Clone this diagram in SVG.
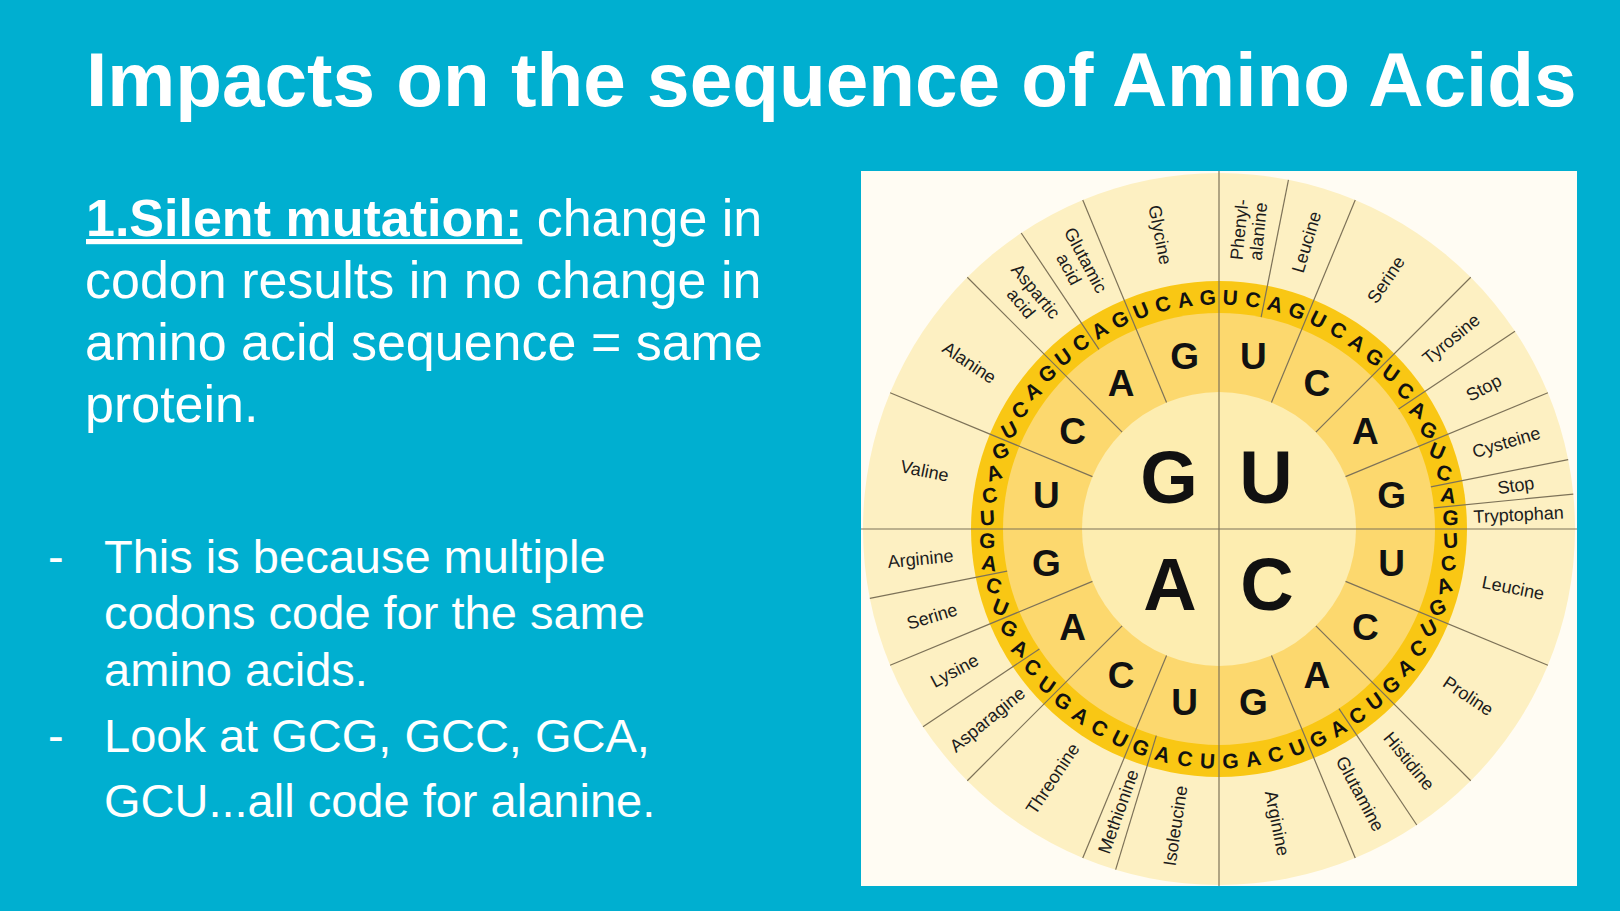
<svg xmlns="http://www.w3.org/2000/svg" width="1620" height="911" viewBox="0 0 1620 911">
<style>
.ttl{font:bold 76.5px "Liberation Sans",Arial,sans-serif;fill:#fff}
.body{font:52px "Liberation Sans",Arial,sans-serif;fill:#fff}
.bul{font:47px "Liberation Sans",Arial,sans-serif;fill:#fff}
.t1{font:bold 74px "Liberation Sans",Arial,sans-serif;fill:#111;text-anchor:middle}
.t2{font:bold 37px "Liberation Sans",Arial,sans-serif;fill:#111;text-anchor:middle}
.t3{font:bold 21px "Liberation Sans",Arial,sans-serif;fill:#111;text-anchor:middle}
.aa{font:18px "Liberation Sans",Arial,sans-serif;fill:#1c1c1c;text-anchor:middle}
.ln{stroke:#7d7258;stroke-width:1.2;fill:none}
</style>
<rect width="1620" height="911" fill="#00AFD0"/>
<g id="title"><text class="ttl" x="86" y="106">Impacts on the sequence of Amino Acids</text></g>
<g id="definition">
<text class="body" x="86" y="236"><tspan font-weight="bold" text-decoration="underline">1.Silent mutation:</tspan><tspan> change in</tspan></text>
<text class="body" x="85" y="298">codon results in no change in</text>
<text class="body" x="85" y="360">amino acid sequence = same</text>
<text class="body" x="85" y="422">protein.</text>
</g>
<g id="bullet1">
<text class="bul" x="48" y="573">-</text>
<text class="bul" x="104" y="573">This is because multiple</text>
<text class="bul" x="104" y="629">codons code for the same</text>
<text class="bul" x="104" y="686">amino acids.</text>
</g>
<g id="bullet2">
<text class="bul" x="48" y="752">-</text>
<text class="bul" x="104" y="752">Look at GCG, GCC, GCA,</text>
<text class="bul" x="104" y="817">GCU...all code for alanine.</text>
</g>
<g id="codon-wheel">
<rect x="861" y="171" width="716" height="715" fill="#FFFCF3"/>
<g transform="translate(1219,529)">
<circle r="356" fill="#FDF0C2"/>
<circle r="248" fill="#F9C714"/>
<circle r="216" fill="#FCD86E"/>
<circle r="137" fill="#FDEDB0"/>
</g>
</g>
<g id="connectors" class="ln">
<line x1="1219" y1="171" x2="1219" y2="886"/>
<line x1="861" y1="529" x2="1577" y2="529"/>
<g transform="translate(1219,529)">
<line x1="0" y1="-137" x2="0" y2="-356" transform="rotate(22.5)"/>
<line x1="0" y1="-137" x2="0" y2="-356" transform="rotate(45)"/>
<line x1="0" y1="-137" x2="0" y2="-356" transform="rotate(67.5)"/>
<line x1="0" y1="-137" x2="0" y2="-356" transform="rotate(112.5)"/>
<line x1="0" y1="-137" x2="0" y2="-356" transform="rotate(135)"/>
<line x1="0" y1="-137" x2="0" y2="-356" transform="rotate(157.5)"/>
<line x1="0" y1="-137" x2="0" y2="-356" transform="rotate(202.5)"/>
<line x1="0" y1="-137" x2="0" y2="-356" transform="rotate(225)"/>
<line x1="0" y1="-137" x2="0" y2="-356" transform="rotate(247.5)"/>
<line x1="0" y1="-137" x2="0" y2="-356" transform="rotate(292.5)"/>
<line x1="0" y1="-137" x2="0" y2="-356" transform="rotate(315)"/>
<line x1="0" y1="-137" x2="0" y2="-356" transform="rotate(337.5)"/>
<line x1="0" y1="-216" x2="0" y2="-356" transform="rotate(11.25)"/>
<line x1="0" y1="-216" x2="0" y2="-356" transform="rotate(56.25)"/>
<line x1="0" y1="-216" x2="0" y2="-356" transform="rotate(78.75)"/>
<line x1="0" y1="-216" x2="0" y2="-356" transform="rotate(84.375)"/>
<line x1="0" y1="-216" x2="0" y2="-356" transform="rotate(146.25)"/>
<line x1="0" y1="-216" x2="0" y2="-356" transform="rotate(196.875)"/>
<line x1="0" y1="-216" x2="0" y2="-356" transform="rotate(236.25)"/>
<line x1="0" y1="-216" x2="0" y2="-356" transform="rotate(258.75)"/>
<line x1="0" y1="-216" x2="0" y2="-356" transform="rotate(326.25)"/>
</g>
</g>
<g id="first-letters">
<text class="t1" x="1169" y="503">G</text>
<text class="t1" x="1266" y="503">U</text>
<text class="t1" x="1170" y="610">A</text>
<text class="t1" x="1267" y="610">C</text>
</g>
<g id="second-letters" transform="translate(1219,529)">
<text class="t2" dy="13" transform="rotate(11.25)translate(0,-176)rotate(-11.25)">U</text>
<text class="t2" dy="13" transform="rotate(33.75)translate(0,-176)rotate(-33.75)">C</text>
<text class="t2" dy="13" transform="rotate(56.25)translate(0,-176)rotate(-56.25)">A</text>
<text class="t2" dy="13" transform="rotate(78.75)translate(0,-176)rotate(-78.75)">G</text>
<text class="t2" dy="13" transform="rotate(101.25)translate(0,-176)rotate(-101.25)">U</text>
<text class="t2" dy="13" transform="rotate(123.75)translate(0,-176)rotate(-123.75)">C</text>
<text class="t2" dy="13" transform="rotate(146.25)translate(0,-176)rotate(-146.25)">A</text>
<text class="t2" dy="13" transform="rotate(168.75)translate(0,-176)rotate(-168.75)">G</text>
<text class="t2" dy="13" transform="rotate(191.25)translate(0,-176)rotate(-191.25)">U</text>
<text class="t2" dy="13" transform="rotate(213.75)translate(0,-176)rotate(-213.75)">C</text>
<text class="t2" dy="13" transform="rotate(236.25)translate(0,-176)rotate(-236.25)">A</text>
<text class="t2" dy="13" transform="rotate(258.75)translate(0,-176)rotate(-258.75)">G</text>
<text class="t2" dy="13" transform="rotate(281.25)translate(0,-176)rotate(-281.25)">U</text>
<text class="t2" dy="13" transform="rotate(303.75)translate(0,-176)rotate(-303.75)">C</text>
<text class="t2" dy="13" transform="rotate(326.25)translate(0,-176)rotate(-326.25)">A</text>
<text class="t2" dy="13" transform="rotate(348.75)translate(0,-176)rotate(-348.75)">G</text>
</g>
<g id="third-letters" transform="translate(1219,529)">
<text class="t3" dy="7.5" transform="rotate(2.8125)translate(0,-232)rotate(-2.8125)rotate(3.4)">U</text>
<text class="t3" dy="7.5" transform="rotate(8.4375)translate(0,-232)rotate(-8.4375)rotate(10.2)">C</text>
<text class="t3" dy="7.5" transform="rotate(14.0625)translate(0,-232)rotate(-14.0625)rotate(16.5)">A</text>
<text class="t3" dy="7.5" transform="rotate(19.6875)translate(0,-232)rotate(-19.6875)rotate(22.2)">G</text>
<text class="t3" dy="7.5" transform="rotate(25.3125)translate(0,-232)rotate(-25.3125)rotate(27.1)">U</text>
<text class="t3" dy="7.5" transform="rotate(30.9375)translate(0,-232)rotate(-30.9375)rotate(30.9)">C</text>
<text class="t3" dy="7.5" transform="rotate(36.5625)translate(0,-232)rotate(-36.5625)rotate(33.5)">A</text>
<text class="t3" dy="7.5" transform="rotate(42.1875)translate(0,-232)rotate(-42.1875)rotate(34.8)">G</text>
<text class="t3" dy="7.5" transform="rotate(47.8125)translate(0,-232)rotate(-47.8125)rotate(34.8)">U</text>
<text class="t3" dy="7.5" transform="rotate(53.4375)translate(0,-232)rotate(-53.4375)rotate(33.5)">C</text>
<text class="t3" dy="7.5" transform="rotate(59.0625)translate(0,-232)rotate(-59.0625)rotate(30.9)">A</text>
<text class="t3" dy="7.5" transform="rotate(64.6875)translate(0,-232)rotate(-64.6875)rotate(27.1)">G</text>
<text class="t3" dy="7.5" transform="rotate(70.3125)translate(0,-232)rotate(-70.3125)rotate(22.2)">U</text>
<text class="t3" dy="7.5" transform="rotate(75.9375)translate(0,-232)rotate(-75.9375)rotate(16.5)">C</text>
<text class="t3" dy="7.5" transform="rotate(81.5625)translate(0,-232)rotate(-81.5625)rotate(10.2)">A</text>
<text class="t3" dy="7.5" transform="rotate(87.1875)translate(0,-232)rotate(-87.1875)rotate(3.4)">G</text>
<text class="t3" dy="7.5" transform="rotate(92.8125)translate(0,-232)rotate(-92.8125)rotate(-3.4)">U</text>
<text class="t3" dy="7.5" transform="rotate(98.4375)translate(0,-232)rotate(-98.4375)rotate(-10.2)">C</text>
<text class="t3" dy="7.5" transform="rotate(104.0625)translate(0,-232)rotate(-104.0625)rotate(-16.5)">A</text>
<text class="t3" dy="7.5" transform="rotate(109.6875)translate(0,-232)rotate(-109.6875)rotate(-22.2)">G</text>
<text class="t3" dy="7.5" transform="rotate(115.3125)translate(0,-232)rotate(-115.3125)rotate(-27.1)">U</text>
<text class="t3" dy="7.5" transform="rotate(120.9375)translate(0,-232)rotate(-120.9375)rotate(-30.9)">C</text>
<text class="t3" dy="7.5" transform="rotate(126.5625)translate(0,-232)rotate(-126.5625)rotate(-33.5)">A</text>
<text class="t3" dy="7.5" transform="rotate(132.1875)translate(0,-232)rotate(-132.1875)rotate(-34.8)">G</text>
<text class="t3" dy="7.5" transform="rotate(137.8125)translate(0,-232)rotate(-137.8125)rotate(-34.8)">U</text>
<text class="t3" dy="7.5" transform="rotate(143.4375)translate(0,-232)rotate(-143.4375)rotate(-33.5)">C</text>
<text class="t3" dy="7.5" transform="rotate(149.0625)translate(0,-232)rotate(-149.0625)rotate(-30.9)">A</text>
<text class="t3" dy="7.5" transform="rotate(154.6875)translate(0,-232)rotate(-154.6875)rotate(-27.1)">G</text>
<text class="t3" dy="7.5" transform="rotate(160.3125)translate(0,-232)rotate(-160.3125)rotate(-22.2)">U</text>
<text class="t3" dy="7.5" transform="rotate(165.9375)translate(0,-232)rotate(-165.9375)rotate(-16.5)">C</text>
<text class="t3" dy="7.5" transform="rotate(171.5625)translate(0,-232)rotate(-171.5625)rotate(-10.2)">A</text>
<text class="t3" dy="7.5" transform="rotate(177.1875)translate(0,-232)rotate(-177.1875)rotate(-3.4)">G</text>
<text class="t3" dy="7.5" transform="rotate(182.8125)translate(0,-232)rotate(-182.8125)rotate(3.4)">U</text>
<text class="t3" dy="7.5" transform="rotate(188.4375)translate(0,-232)rotate(-188.4375)rotate(10.2)">C</text>
<text class="t3" dy="7.5" transform="rotate(194.0625)translate(0,-232)rotate(-194.0625)rotate(16.5)">A</text>
<text class="t3" dy="7.5" transform="rotate(199.6875)translate(0,-232)rotate(-199.6875)rotate(22.2)">G</text>
<text class="t3" dy="7.5" transform="rotate(205.3125)translate(0,-232)rotate(-205.3125)rotate(27.1)">U</text>
<text class="t3" dy="7.5" transform="rotate(210.9375)translate(0,-232)rotate(-210.9375)rotate(30.9)">C</text>
<text class="t3" dy="7.5" transform="rotate(216.5625)translate(0,-232)rotate(-216.5625)rotate(33.5)">A</text>
<text class="t3" dy="7.5" transform="rotate(222.1875)translate(0,-232)rotate(-222.1875)rotate(34.8)">G</text>
<text class="t3" dy="7.5" transform="rotate(227.8125)translate(0,-232)rotate(-227.8125)rotate(34.8)">U</text>
<text class="t3" dy="7.5" transform="rotate(233.4375)translate(0,-232)rotate(-233.4375)rotate(33.5)">C</text>
<text class="t3" dy="7.5" transform="rotate(239.0625)translate(0,-232)rotate(-239.0625)rotate(30.9)">A</text>
<text class="t3" dy="7.5" transform="rotate(244.6875)translate(0,-232)rotate(-244.6875)rotate(27.1)">G</text>
<text class="t3" dy="7.5" transform="rotate(250.3125)translate(0,-232)rotate(-250.3125)rotate(22.2)">U</text>
<text class="t3" dy="7.5" transform="rotate(255.9375)translate(0,-232)rotate(-255.9375)rotate(16.5)">C</text>
<text class="t3" dy="7.5" transform="rotate(261.5625)translate(0,-232)rotate(-261.5625)rotate(10.2)">A</text>
<text class="t3" dy="7.5" transform="rotate(267.1875)translate(0,-232)rotate(-267.1875)rotate(3.4)">G</text>
<text class="t3" dy="7.5" transform="rotate(272.8125)translate(0,-232)rotate(-272.8125)rotate(-3.4)">U</text>
<text class="t3" dy="7.5" transform="rotate(278.4375)translate(0,-232)rotate(-278.4375)rotate(-10.2)">C</text>
<text class="t3" dy="7.5" transform="rotate(284.0625)translate(0,-232)rotate(-284.0625)rotate(-16.5)">A</text>
<text class="t3" dy="7.5" transform="rotate(289.6875)translate(0,-232)rotate(-289.6875)rotate(-22.2)">G</text>
<text class="t3" dy="7.5" transform="rotate(295.3125)translate(0,-232)rotate(-295.3125)rotate(-27.1)">U</text>
<text class="t3" dy="7.5" transform="rotate(300.9375)translate(0,-232)rotate(-300.9375)rotate(-30.9)">C</text>
<text class="t3" dy="7.5" transform="rotate(306.5625)translate(0,-232)rotate(-306.5625)rotate(-33.5)">A</text>
<text class="t3" dy="7.5" transform="rotate(312.1875)translate(0,-232)rotate(-312.1875)rotate(-34.8)">G</text>
<text class="t3" dy="7.5" transform="rotate(317.8125)translate(0,-232)rotate(-317.8125)rotate(-34.8)">U</text>
<text class="t3" dy="7.5" transform="rotate(323.4375)translate(0,-232)rotate(-323.4375)rotate(-33.5)">C</text>
<text class="t3" dy="7.5" transform="rotate(329.0625)translate(0,-232)rotate(-329.0625)rotate(-30.9)">A</text>
<text class="t3" dy="7.5" transform="rotate(334.6875)translate(0,-232)rotate(-334.6875)rotate(-27.1)">G</text>
<text class="t3" dy="7.5" transform="rotate(340.3125)translate(0,-232)rotate(-340.3125)rotate(-22.2)">U</text>
<text class="t3" dy="7.5" transform="rotate(345.9375)translate(0,-232)rotate(-345.9375)rotate(-16.5)">C</text>
<text class="t3" dy="7.5" transform="rotate(351.5625)translate(0,-232)rotate(-351.5625)rotate(-10.2)">A</text>
<text class="t3" dy="7.5" transform="rotate(357.1875)translate(0,-232)rotate(-357.1875)rotate(-3.4)">G</text>
</g>
<g id="amino-acids" transform="translate(1219,529)">
<text class="aa" transform="rotate(5.625)translate(0,-300)rotate(-90)"><tspan x="0" y="-3">Phenyl-</tspan><tspan x="0" y="16">alanine</tspan></text>
<text class="aa" dy="6.5" transform="rotate(16.875)translate(0,-300)rotate(-90)">Leucine</text>
<text class="aa" dy="6.5" transform="rotate(33.75)translate(0,-300)rotate(-90)">Serine</text>
<text class="aa" dy="6.5" transform="rotate(50.625)translate(0,-300)rotate(-90)">Tyrosine</text>
<text class="aa" dy="6.5" transform="rotate(61.875)translate(0,-300)rotate(-90)">Stop</text>
<text class="aa" dy="6.5" transform="rotate(73.125)translate(0,-300)rotate(-90)">Cysteine</text>
<text class="aa" dy="6.5" transform="rotate(81.5625)translate(0,-300)rotate(-90)">Stop</text>
<text class="aa" dy="6.5" transform="rotate(87.1875)translate(0,-300)rotate(-90)">Tryptophan</text>
<text class="aa" dy="6.5" transform="rotate(101.25)translate(0,-300)rotate(-90)">Leucine</text>
<text class="aa" dy="6.5" transform="rotate(123.75)translate(0,-300)rotate(-90)">Proline</text>
<text class="aa" dy="6.5" transform="rotate(140.625)translate(0,-300)rotate(-90)">Histidine</text>
<text class="aa" dy="6.5" transform="rotate(151.875)translate(0,-300)rotate(-90)">Glutamine</text>
<text class="aa" dy="6.5" transform="rotate(168.75)translate(0,-300)rotate(-90)">Arginine</text>
<text class="aa" dy="6.5" transform="rotate(188.4375)translate(0,-300)rotate(90)">Isoleucine</text>
<text class="aa" dy="6.5" transform="rotate(199.6875)translate(0,-300)rotate(90)">Methionine</text>
<text class="aa" dy="6.5" transform="rotate(213.75)translate(0,-300)rotate(90)">Threonine</text>
<text class="aa" dy="6.5" transform="rotate(230.625)translate(0,-300)rotate(90)">Asparagine</text>
<text class="aa" dy="6.5" transform="rotate(241.875)translate(0,-300)rotate(90)">Lysine</text>
<text class="aa" dy="6.5" transform="rotate(253.125)translate(0,-300)rotate(90)">Serine</text>
<text class="aa" dy="6.5" transform="rotate(264.375)translate(0,-300)rotate(90)">Arginine</text>
<text class="aa" dy="6.5" transform="rotate(281.25)translate(0,-300)rotate(90)">Valine</text>
<text class="aa" dy="6.5" transform="rotate(303.75)translate(0,-300)rotate(90)">Alanine</text>
<text class="aa" transform="rotate(320.625)translate(0,-300)rotate(90)"><tspan x="0" y="-3">Aspartic</tspan><tspan x="0" y="16">acid</tspan></text>
<text class="aa" transform="rotate(331.875)translate(0,-300)rotate(90)"><tspan x="0" y="-3">Glutamic</tspan><tspan x="0" y="16">acid</tspan></text>
<text class="aa" dy="6.5" transform="rotate(348.75)translate(0,-300)rotate(90)">Glycine</text>
</g>
</svg>
